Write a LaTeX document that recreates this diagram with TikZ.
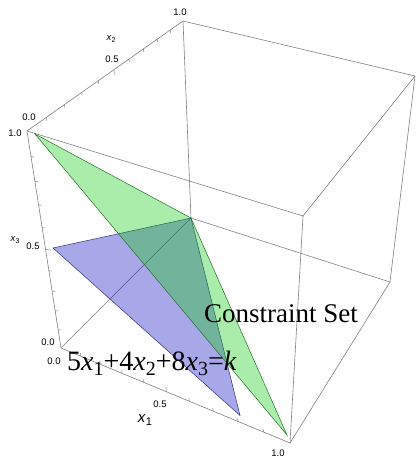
\documentclass[tikz,border=0pt]{standalone}
\usepackage{fontspec}
\setmainfont{Liberation Serif}
\newfontfamily\axfont{Liberation Sans}
\usetikzlibrary{calc}
\newcommand\subn[1]{\raisebox{-5pt}{\fontsize{20}{20}\selectfont #1}}
\begin{document}
\begin{tikzpicture}[x=1pt,y=-1pt,
  boxedge/.style={draw=black!50,line width=0.6pt},
  tickline/.style={draw=black!50,line width=0.5pt},
  greenface/.style={fill={rgb,255:red,5;green,199;blue,5},fill opacity=0.34,
     draw={rgb,255:red,40;green,110;blue,40},line width=0.5pt},
  blueface/.style={fill={rgb,255:red,0;green,0;blue,190},fill opacity=0.34,
     draw={rgb,255:red,50;green,50;blue,130},line width=0.5pt},
  ticklabel/.style={font=\axfont\fontsize{9.5}{10}\selectfont,inner sep=0pt},
  biglabel/.style={font=\fontsize{27}{27}\selectfont,inner sep=0pt,anchor=base west}]
\useasboundingbox (0,0) rectangle (416,458);
% box vertices
\coordinate (O) at (61,348);
\coordinate (X) at (290,443);
\coordinate (Y) at (191,218);
\coordinate (Z) at (27,131);
\coordinate (XY) at (390,282);
\coordinate (XZ) at (303,216);
\coordinate (YZ) at (183,21);
\coordinate (XYZ) at (415,76);
% box edges
\draw[boxedge] (O) -- (X);
\draw[boxedge] (O) -- (Y);
\draw[boxedge] (O) -- (Z);
\draw[boxedge] (X) -- (XY);
\draw[boxedge] (X) -- (XZ);
\draw[boxedge] (Y) -- (XY);
\draw[boxedge] (Y) -- (YZ);
\draw[boxedge] (Z) -- (XZ);
\draw[boxedge] (Z) -- (YZ);
\draw[boxedge] (XY) -- (XYZ);
\draw[boxedge] (XZ) -- (XYZ);
\draw[boxedge] (YZ) -- (XYZ);
% ticks
\foreach \t/\l in {0.1/3,0.2/3,0.3/3,0.4/3,0.5/5,0.6/3,0.7/3,0.8/3,0.9/3}{
  \pgfmathsetmacro\w{\t*1.26/((1-\t)+\t*1.26)}
  \draw[tickline] ($(Z)!\w!(YZ)$) -- ++(0.4,\l);
  \pgfmathsetmacro\v{\t*0.83/((1-\t)+\t*0.83)}
  \draw[tickline] ($(O)!\v!(Z)$) -- ++(\l,0.3);
  \pgfmathsetmacro\u{\t*0.85/((1-\t)+\t*0.85)}
  \draw[tickline] ($(O)!\u!(X)$) -- ++(-0.4,-\l);
}
% faces
\coordinate (B1) at (53,248);
\coordinate (B3) at (240,415.5);
\coordinate (G1) at (35,134);
\coordinate (G3) at (287,435);
\coordinate (A) at (191,218);
\path[blueface] (B1) -- (A) -- (B3) -- cycle;
\path[greenface] (G1) -- (A) -- (G3) -- cycle;
% tick labels
\node[ticklabel] (l1) at (180,12.5) {1.0};
\node[ticklabel] (l2) at (112,59) {0.5};
\node[ticklabel] (l3) at (29,117) {0.0};
\node[ticklabel] (l4) at (15,133) {1.0};
\node[ticklabel] (l5) at (33,246) {0.5};
\node[ticklabel] (l6) at (48,342) {0.0};
\node[ticklabel] (l7) at (54,361) {0.0};
\node[ticklabel] (l8) at (160,404) {0.5};
\node[ticklabel] (l9) at (278,453) {1.0};
% axis labels
\node[inner sep=0pt,font=\axfont\fontsize{9.5}{10}\selectfont] (ax2) at (111,39) {\textit{x}\raisebox{-1.5pt}{\fontsize{7}{7}\selectfont 2}};
\node[inner sep=0pt,font=\axfont\fontsize{9.5}{10}\selectfont] (ax3) at (15,240) {\textit{x}\raisebox{-1.5pt}{\fontsize{7}{7}\selectfont 3}};
\node[inner sep=0pt,font=\axfont\fontsize{15}{15}\selectfont] (ax1) at (145,420) {\textit{x}\raisebox{-2.5pt}{\fontsize{11}{11}\selectfont 1}};
% big labels
\node[biglabel] (cs) at (204,322) {Constraint Set};
\node[biglabel,font=\fontsize{28}{28}\selectfont] (eq) at (67,370) {5\textit{x}\subn{1}+4\textit{x}\subn{2}+8\textit{x}\subn{3}=\textit{k}};
\end{tikzpicture}
\end{document}
